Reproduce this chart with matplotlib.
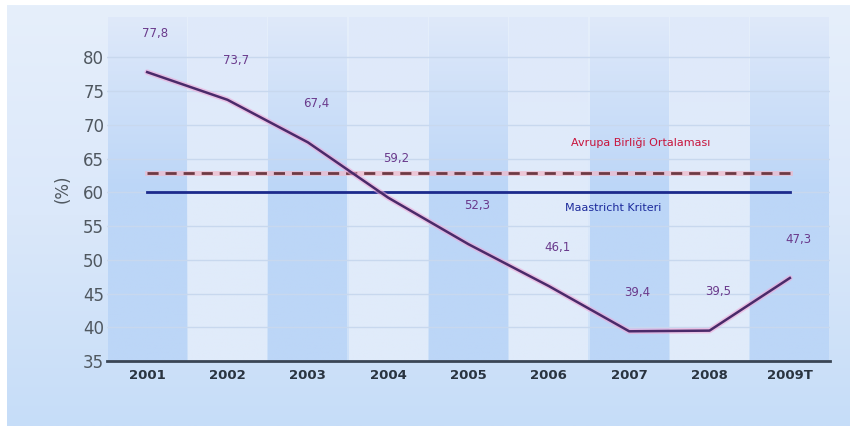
import numpy as np
import matplotlib
matplotlib.use("Agg")
import matplotlib.pyplot as plt
from matplotlib.colors import LinearSegmentedColormap

years = ["2001", "2002", "2003", "2004", "2005", "2006", "2007", "2008", "2009T"]
debt = [77.8, 73.7, 67.4, 59.2, 52.3, 46.1, 39.4, 39.5, 47.3]
debt_labels = ["77,8", "73,7", "67,4", "59,2", "52,3", "46,1", "39,4", "39,5", "47,3"]
eu_average = 62.8
maastricht = 60.0

fig = plt.figure(figsize=(8.58, 4.26), dpi=100)
fig.patch.set_facecolor("white")

# background panel with vertical gradient
bg = fig.add_axes([0.008, 0.0, 0.982, 0.988])
grad = np.linspace(0, 1, 256).reshape(-1, 1)
cmap = LinearSegmentedColormap.from_list("bg", ["#e6effb", "#dbe8fa", "#c6ddf8"])
bg.imshow(grad, aspect="auto", cmap=cmap, extent=[0, 1, 0, 1], origin="upper")
bg.set_axis_off()

ax = fig.add_axes([0.1247, 0.1526, 0.8427, 0.808])
ax.patch.set_alpha(0)
x = np.arange(len(years))
ax.set_xlim(-0.5, len(years) - 0.5)
ax.set_ylim(35, 86)

# alternating column bands, fading towards the top
band_grad = np.linspace(0, 1, 256).reshape(-1, 1)
for i in x:
    c = "#bcd6f7" if i % 2 == 0 else "#e0ebfa"
    cm = LinearSegmentedColormap.from_list("b%d" % i, [c, c, "#dfe9fa"])
    ax.imshow(band_grad, aspect="auto", cmap=cm, origin="lower",
              extent=[i - 0.49, i + 0.49, 35, 86], zorder=0)

for yv in range(40, 85, 5):
    ax.axhline(yv, color="#c8d8ee", lw=1, zorder=1)

ax.plot([x[0], x[-1]], [maastricht, maastricht], color="#1c2a8c", lw=2, zorder=3)
ax.plot([x[0], x[-1]], [eu_average, eu_average], color="#f2b8c8", lw=3.5, zorder=3, alpha=0.7)
ax.plot([x[0], x[-1]], [eu_average, eu_average], color="#6e3a44", lw=2,
        ls=(0, (4, 2.5)), zorder=4)

ax.plot(x, debt, color="#f0a8d8", lw=4, alpha=0.6, zorder=5, solid_capstyle="round")
ax.plot(x, debt, color="#4a2a6a", lw=1.8, zorder=6)

for xi, yi, lab in zip(x, debt, debt_labels):
    ax.annotate(lab, (xi, yi), xytext=(6, 28), textcoords="offset points",
                ha="center", va="center", fontsize=8.5, color="#6a3a8c")

ax.text(6.14, 67.3, "Avrupa Birliği Ortalaması", color="#c8143c", fontsize=8,
        ha="center", va="center")
ax.text(5.8, 57.6, "Maastricht Kriteri", color="#1c2a9c", fontsize=8,
        ha="center", va="center")

ax.set_xticks(x)
ax.set_xticklabels(years, fontsize=9.5, fontweight="bold", color="#2a3440")
ax.set_yticks(range(35, 85, 5))
ax.tick_params(axis="y", labelsize=12, labelcolor="#505860", length=0, pad=2)
ax.tick_params(axis="x", length=0, pad=6)
for s in ["top", "right", "left"]:
    ax.spines[s].set_visible(False)
ax.spines["bottom"].set_color("#3a4655")
ax.spines["bottom"].set_linewidth(2)
ax.set_ylabel("(%)", fontsize=12, color="#505860", labelpad=8)

fig.savefig("out.png", dpi=100)
